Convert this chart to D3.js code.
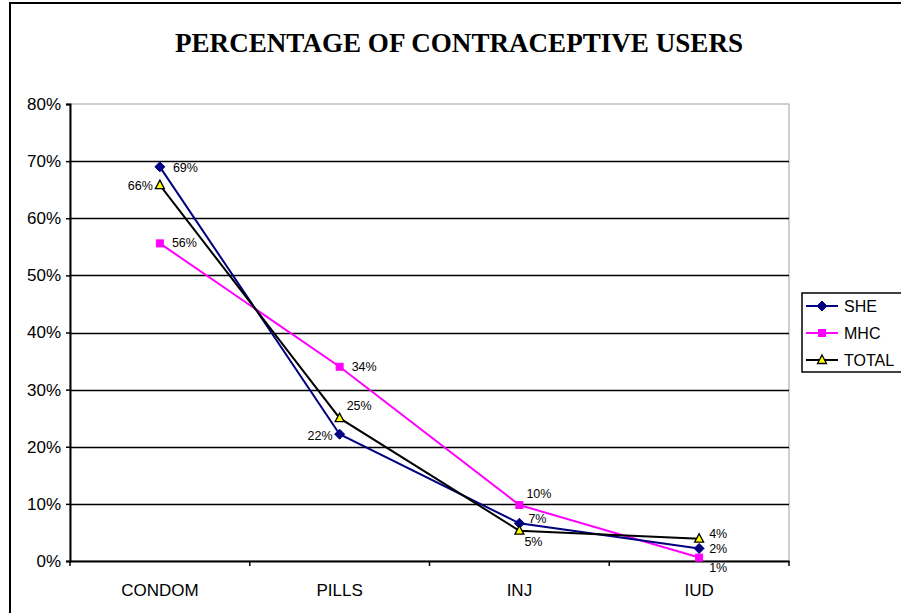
<!DOCTYPE html>
<html>
<head>
<meta charset="utf-8">
<script src="https://cdn.jsdelivr.net/npm/d3@7"></script>
<style>
  html, body { margin: 0; padding: 0; background: #fff; }
  svg { display: block; }
</style>
</head>
<body>
<svg id="chart" width="901" height="613"></svg>
<script>
// Contraceptive methods and share of users per group
const categories = ["CONDOM", "PILLS", "INJ", "IUD"];
const sheValues = [0.69, 0.222, 0.066, 0.022];
const mhcValues = [0.556, 0.34, 0.098, 0.006];
const totalValues = [0.658, 0.25, 0.053, 0.039];
const seriesNames = ["SHE", "MHC", "TOTAL"];
const yTicks = [0, 0.1, 0.2, 0.3, 0.4, 0.5, 0.6, 0.7, 0.8];
const title = "PERCENTAGE OF CONTRACEPTIVE USERS";

const svg = d3.select("#chart");
const W = 901, H = 613;
const plot = { left: 70, right: 789, top: 104, bottom: 561 };
const sans = "'Liberation Sans', Arial, sans-serif";

// outer frame
svg.append("rect")
  .attr("x", 10).attr("y", 3).attr("width", W).attr("height", H)
  .attr("fill", "#fff").attr("stroke", "#000").attr("stroke-width", 2);

svg.append("text")
  .attr("x", 459).attr("y", 52)
  .attr("text-anchor", "middle")
  .attr("font-family", "'Liberation Serif', 'Times New Roman', serif")
  .attr("font-weight", "bold")
  .attr("font-size", 27)
  .attr("textLength", 568)
  .attr("lengthAdjust", "spacingAndGlyphs")
  .text(title);

const x = d3.scaleBand().domain(categories).range([plot.left, plot.right]);
const y = d3.scaleLinear().domain([0, 0.8]).range([plot.bottom, plot.top]);
const cx = c => x(c) + x.bandwidth() / 2;

// plot area outline
svg.append("rect")
  .attr("x", plot.left).attr("y", plot.top)
  .attr("width", plot.right - plot.left).attr("height", plot.bottom - plot.top)
  .attr("fill", "none").attr("stroke", "#a0a0a0").attr("stroke-width", 1);

// gridlines
svg.append("g")
  .selectAll("line")
  .data(yTicks.filter(t => t > 0 && t < 0.8))
  .join("line")
  .attr("x1", plot.left).attr("x2", plot.right)
  .attr("y1", d => Math.round(y(d)) + 0.5).attr("y2", d => Math.round(y(d)) + 0.5)
  .attr("stroke", "#000").attr("stroke-width", 1.3);

// y axis
const yAxis = svg.append("g")
  .attr("transform", `translate(${plot.left},0)`)
  .call(d3.axisLeft(y).tickValues(yTicks).tickFormat(d3.format(".0%")).tickSize(4).tickPadding(5));
yAxis.select(".domain").attr("stroke", "#000").attr("stroke-width", 2);
yAxis.selectAll(".tick line").attr("stroke", "#000").attr("stroke-width", 1.5);
yAxis.selectAll("text")
  .attr("font-family", sans)
  .attr("font-size", 17).attr("fill", "#000");

// x axis
const xAxis = svg.append("g")
  .attr("transform", `translate(0,${plot.bottom})`)
  .call(d3.axisBottom(x).tickSize(0).tickPadding(23));
xAxis.select(".domain").attr("stroke", "#000").attr("stroke-width", 2);
xAxis.selectAll("text")
  .attr("font-family", sans)
  .attr("font-size", 17).attr("fill", "#000");
// category boundary ticks
const boundaries = categories.map(c => x(c)).concat([x(categories[categories.length - 1]) + x.bandwidth()]);
xAxis.selectAll("line.bound")
  .data(boundaries)
  .join("line")
  .attr("class", "bound")
  .attr("x1", d => d).attr("x2", d => d)
  .attr("y1", 0).attr("y2", 5)
  .attr("stroke", "#000").attr("stroke-width", 1.5);

const series = [
  { name: "SHE", values: sheValues, color: "#000080", marker: "diamond" },
  { name: "MHC", values: mhcValues, color: "#ff00ff", marker: "square" },
  { name: "TOTAL", values: totalValues, color: "#000000", marker: "triangle" }
];

// label offsets per series / category (dx, dy, anchor)
const labelPos = {
  SHE: [[13, 5, "start"], [-7, 6, "end"], [9, 0, "start"], [10, 5, "start"]],
  MHC: [[12, 4, "start"], [12, 4, "start"], [7, -7, "start"], [10, 14, "start"]],
  TOTAL: [[-7, 5, "end"], [7, -8, "start"], [5, 15, "start"], [10, -1, "start"]]
};

const line = d3.line()
  .x((d, i) => cx(categories[i]))
  .y(d => y(d));

function drawMarker(g, type, color, px, py) {
  if (type === "diamond") {
    g.append("path")
      .attr("d", `M${px},${py - 5}L${px + 5},${py}L${px},${py + 5}L${px - 5},${py}Z`)
      .attr("fill", color).attr("stroke", color);
  } else if (type === "square") {
    g.append("rect")
      .attr("x", px - 3.5).attr("y", py - 3.5).attr("width", 7).attr("height", 7)
      .attr("fill", color).attr("stroke", color);
  } else {
    g.append("path")
      .attr("d", `M${px},${py - 5}L${px + 4.5},${py + 3.5}L${px - 4.5},${py + 3.5}Z`)
      .attr("fill", "#ffff00").attr("stroke", "#000").attr("stroke-width", 1.3);
  }
}

const fmt = d3.format(".0%");
// draw in order MHC, SHE, TOTAL so black is on top
[series[1], series[0], series[2]].forEach(s => {
  const g = svg.append("g");
  g.append("path")
    .datum(s.values)
    .attr("d", line)
    .attr("fill", "none")
    .attr("stroke", s.color)
    .attr("stroke-width", 2);
  s.values.forEach((v, i) => drawMarker(g, s.marker, s.color, cx(categories[i]), y(v)));
});

series.forEach(s => {
  s.values.forEach((v, i) => {
    const [dx, dy, anchor] = labelPos[s.name][i];
    svg.append("text")
      .attr("x", cx(categories[i]) + dx)
      .attr("y", y(v) + dy)
      .attr("text-anchor", anchor)
      .attr("font-family", sans)
      .attr("font-size", 12.5)
      .attr("fill", "#000")
      .text(fmt(v));
  });
});

// legend
const legend = svg.append("g");
legend.append("rect")
  .attr("x", 802).attr("y", 293).attr("width", 110).attr("height", 79)
  .attr("fill", "#fff").attr("stroke", "#000").attr("stroke-width", 1.5);
series.forEach((s, i) => {
  const ly = 306 + i * 27;
  legend.append("line")
    .attr("x1", 806).attr("x2", 838).attr("y1", ly).attr("y2", ly)
    .attr("stroke", s.color).attr("stroke-width", 2);
  drawMarker(legend, s.marker, s.color, 822, ly);
  legend.append("text")
    .attr("x", 844).attr("y", ly + 6)
    .attr("font-family", sans)
    .attr("font-size", 16)
    .attr("fill", "#000")
    .text(seriesNames[i]);
});
</script>
</body>
</html>
